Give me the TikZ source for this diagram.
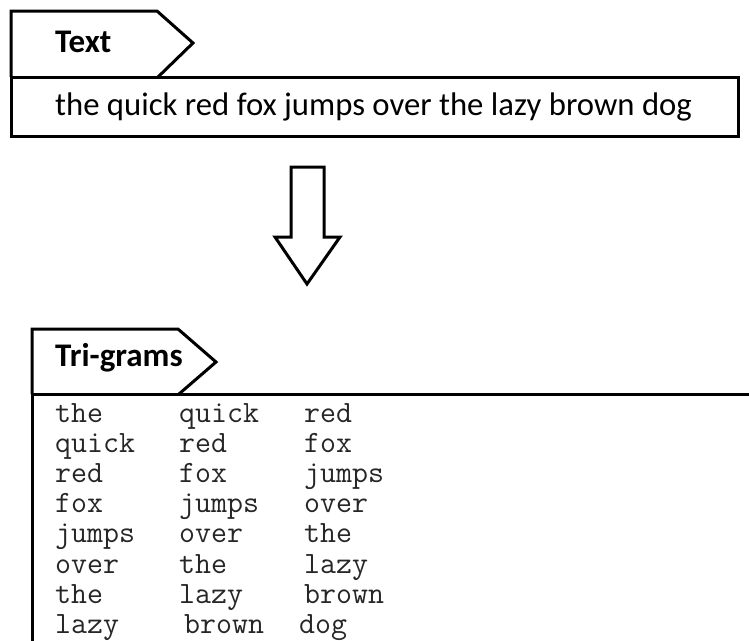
\documentclass[tikz,border=0pt]{standalone}
\usepackage{fontspec}
\setmainfont{Carlito}
\begin{document}
\begin{tikzpicture}[x=1pt,y=-1pt,
  frame/.style={draw=black, line width=3pt, line join=miter},
  tabtext/.style={anchor=base west, inner sep=0pt, font=\fontsize{33}{33}\selectfont\bfseries},
  bodytext/.style={anchor=base west, inner sep=0pt, font=\fontsize{32.7}{33}\selectfont},
  gram/.style={anchor=base west, inner sep=0pt, text=black!85, font=\ttfamily\fontsize{31}{31}\selectfont}]
\useasboundingbox (0,0) rectangle (749,640);
% Text section
\draw[frame] (11,77) -- (11,11) -- (157,11) -- (193,43) -- (158,77);
\draw[frame] (11,77) rectangle (738,136);
\node[tabtext] (texttab) at (55,52) {Text};
\node[bodytext] (textbody) at (55,115) {the quick red fox jumps over the lazy brown dog};
% block arrow
\draw[frame] (291,167) -- (324,167) -- (324,237) -- (340,237) -- (307,284) -- (275,237) -- (291,237) -- cycle;
% Tri-grams section
\draw[frame] (32,394) -- (32,329) -- (178,329) -- (216,362) -- (179,394);
\draw[frame] (32,650) -- (32,394) -- (760,394);
\node[tabtext] (gramtab) at (55,366) {Tri-grams};
\foreach \a/\b/\c [count=\i from 0] in {the/quick/red, quick/red/fox, red/fox/jumps, fox/jumps/over, jumps/over/the, over/the/lazy, the/lazy/brown}{
  \node[gram] (ga\i) at (55,422+30.2*\i) {\a};
  \node[gram] (gb\i) at (179,422+30.2*\i) {\b};
  \node[gram] (gc\i) at (304,422+30.2*\i) {\c};
}
\node[gram] (ga7) at (55,633) {lazy};
\node[gram] (gb7) at (184,633) {brown};
\node[gram] (gc7) at (299,633) {dog};
\end{tikzpicture}
\end{document}
